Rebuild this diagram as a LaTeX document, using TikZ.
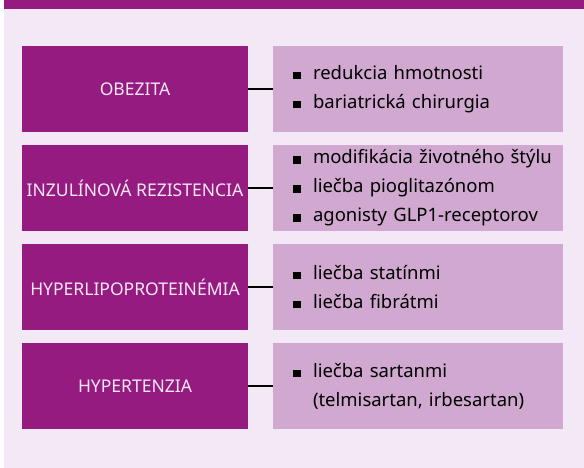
\documentclass[tikz,border=0pt]{standalone}
\usepackage{fontspec}
\setmainfont{Noto Sans}
\usepackage{xcolor}

\definecolor{darkplum}{RGB}{149,27,129}
\definecolor{lightplum}{RGB}{208,168,208}
\definecolor{paleplum}{RGB}{243,232,245}
\definecolor{labeltext}{RGB}{248,232,244}

% bullet item for the treatment boxes
\newcommand{\treat}[1]{\hspace*{10pt}\makebox[20pt][l]{\rule{7.5pt}{7.5pt}}#1}

\begin{document}
\begin{tikzpicture}[x=1pt, y=-1pt,
        cause/.style={fill=darkplum, text=labeltext, rectangle, minimum width=226pt, minimum height=86pt, inner sep=0pt, font=\fontsize{17.5}{20}\selectfont},
        therapy/.style={fill=lightplum, text=black, rectangle, minimum width=290pt, minimum height=86pt, inner xsep=10pt, inner ysep=0pt, text width=270pt, align=left, font=\fontsize{18.5}{29}\selectfont},
        link/.style={black, line width=1.1pt}]

        % Draw the background and the header bar
        \useasboundingbox (0,0) rectangle (584,468);
        \fill[paleplum] (4,0) rectangle (584,468);
        \fill[darkplum] (4,0) rectangle (584,9);

        % Draw the risk factors
        \node[cause] (obez) at (135, 89) {OBEZITA};
        \node[cause] (inzul) at (135, 188) {INZULÍNOVÁ REZISTENCIA};
        \node[cause] (lipo) at (135, 287) {HYPERLIPOPROTEINÉMIA};
        \node[cause] (hyper) at (135, 386) {HYPERTENZIA};

        % Draw the treatment boxes
        \node[therapy] (obezrx) at (418, 89) {\treat{redukcia hmotnosti}\\ \treat{bariatrická chirurgia}};
        \node[therapy] (inzulrx) at (418, 188) {\treat{modifikácia životného štýlu}\\ \treat{liečba pioglitazónom}\\ \treat{agonisty GLP1-receptorov}};
        \node[therapy] (liporx) at (418, 287) {\treat{liečba statínmi}\\ \treat{liečba fibrátmi}};
        \node[therapy] (hyperrx) at (418, 386) {\treat{liečba sartanmi}\\ \hspace*{30pt}(telmisartan, irbesartan)};

        % Draw the links
        \draw[link] (obez.east) -- (obezrx.west);
        \draw[link] (inzul.east) -- (inzulrx.west);
        \draw[link] (lipo.east) -- (liporx.west);
        \draw[link] (hyper.east) -- (hyperrx.west);

    \end{tikzpicture}
\end{document}
